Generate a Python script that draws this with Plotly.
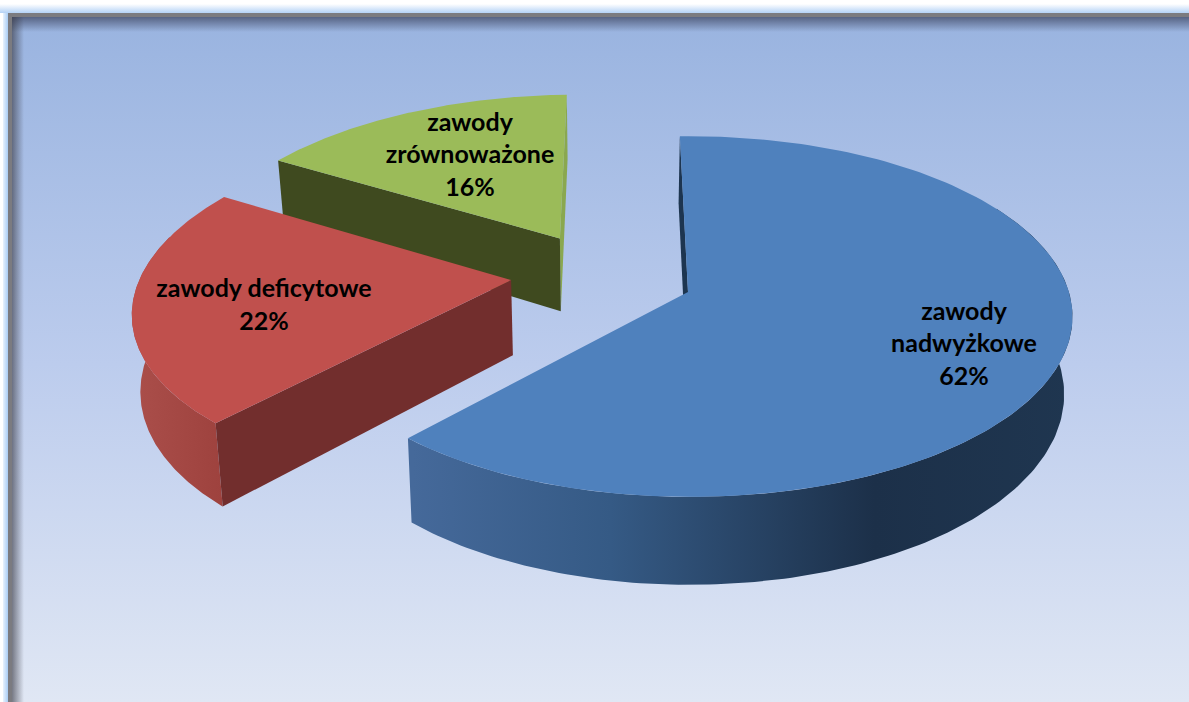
import numpy as np
import plotly.graph_objects as go

# ---- data ----
categories = ["zawody nadwyżkowe", "zawody deficytowe", "zawody zrównoważone"]
label_lines = ["zawody<br>nadwyżkowe<br>62%", "zawody deficytowe<br>22%", "zawody<br>zrównoważone<br>16%"]
shares = [62, 22, 16]
top_colors = ["#4f81bd", "#c0504d", "#9bbb59"]
inner_colors = ["#1d3550", "#722e2d", "#3f4a1f"]
label_x = [964, 264, 470]
label_y = [346, 307, 157]

# ---- projection constants (perspective view of the tilted pie, pixel-based axes) ----
W, H = 1189, 702
CX, CY = 688, 292
AX, BY, PERSP, PERSP_X = 379, 177, 0.136, -0.005
DEPTH, SHRINK, VANISH_X = 76, 0.982, 610
EXPLODE = 0.245
START_DEG = -1.4


def project(X, Y, low=False):
    X, Y = np.asarray(X, float), np.asarray(Y, float)
    w = 1 + PERSP * Y + PERSP_X * X
    sx = CX + AX * X / w
    sy = CY - BY * Y / w
    if low:
        return VANISH_X + (sx - VANISH_X) * SHRINK, sy + DEPTH / w
    return sx, sy


def u(deg):
    r = np.radians(deg)
    return np.sin(r), np.cos(r)


def poly(xs, ys, color=None, gradient=None):
    kw = dict(x=list(xs), y=list(ys), mode="lines", line=dict(width=0), fill="toself",
              hoverinfo="skip", showlegend=False)
    if gradient is not None:
        kw["fillgradient"] = gradient
    else:
        kw["fillcolor"] = color
    return go.Scatter(**kw)


def grad(kind, start, stop, stops):
    return dict(type=kind, start=start, stop=stop, colorscale=stops)


fig = go.Figure()

# ---- frame and background ----
fig.add_trace(poly([0, W, W, 0], [0, 0, H, H], gradient=grad("vertical", 4, 13, [[0, "#ffffff"], [1, "#b4d2f6"]])))
fig.add_trace(poly([3, 8, 8, 3], [13, 13, H, H], gradient=grad("horizontal", 3, 8, [[0, "#e8f2fd"], [1, "#a9ccf4"]])))
fig.add_trace(poly([0, 3, 3, 0], [13, 13, H, H], color="#ffffff"))
fig.add_trace(poly([8, W, W, 8], [13, 13, H, H], color="#7b7b80"))
fig.add_trace(poly([12, W, W, 12], [17, 17, H, H],
                   gradient=grad("vertical", 25, 702, [[0, "#9ab4e0"], [0.5, "#bccced"], [1, "#e0e7f4"]])))
fig.add_trace(poly([12, W, W, 12], [17, 17, 32, 32],
                   gradient=grad("vertical", 17, 32, [[0, "rgba(45,50,75,0.62)"], [1, "rgba(45,50,75,0)"]])))
fig.add_trace(poly([12, 24, 24, 12], [17, 17, H, H],
                   gradient=grad("horizontal", 12, 24, [[0, "rgba(55,55,65,0.62)"], [1, "rgba(55,55,65,0)"]])))

# ---- slice geometry from the shares ----
total = sum(shares)
spans = [s / total * 360 for s in shares]
starts = [START_DEG + sum(spans[:i]) for i in range(len(spans))]
mids = [a + b / 2 for a, b in zip(starts, spans)]
ox, oy = u(mids[0])
centre = (-EXPLODE * ox, -EXPLODE * oy)
apexes = []
for m in mids:
    ux, uy = u(m)
    apexes.append((centre[0] + EXPLODE * ux, centre[1] + EXPLODE * uy + (0.0 if m == mids[0] else 0.02)))


def rim(i, a0, a1, low=False):
    t = np.linspace(a0, a1, 160)
    ux, uy = u(t)
    return project(apexes[i][0] + ux, apexes[i][1] + uy, low)


def apex(i, low=False):
    x, y = project([apexes[i][0]], [apexes[i][1]], low)
    return x, y


def edge_wall(i, ang, color):
    rx, ry = rim(i, ang, ang + 1e-6)
    rxl, ryl = rim(i, ang, ang + 1e-6, True)
    ax, ay = apex(i)
    axl, ayl = apex(i, True)
    return poly([ax[0], rx[0], rxl[0], axl[0]], [ay[0], ry[0], ryl[0], ayl[0]], color)


def outer_wall(i, a0, a1, gradient):
    tx, ty = rim(i, a0, a1)
    bx, by = rim(i, a0, a1, True)
    return poly(np.r_[tx, bx[::-1]], np.r_[ty, by[::-1]], gradient=gradient)


def top_face(i):
    ax, ay = apex(i)
    tx, ty = rim(i, starts[i], starts[i] + spans[i])
    return poly(np.r_[ax, tx], np.r_[ay, ty], top_colors[i])


# green (rear) slice
fig.add_trace(edge_wall(2, starts[2] + spans[2], "#8aa84f"))
fig.add_trace(edge_wall(2, starts[2], inner_colors[2]))
fig.add_trace(top_face(2))
# red slice
fig.add_trace(outer_wall(1, starts[1], 285, grad("horizontal", 135, 222, [[0, "#aa4e4a"], [1, "#9e423e"]])))
fig.add_trace(edge_wall(1, starts[1], inner_colors[1]))
fig.add_trace(top_face(1))
# blue slice
fig.add_trace(edge_wall(0, starts[0], inner_colors[0]))
fig.add_trace(outer_wall(0, 60, starts[0] + spans[0], grad("horizontal", 413, 1072,
              [[0, "#45699a"], [0.3, "#355a85"], [0.7, "#1c3049"], [1, "#1f3650"]])))
fig.add_trace(top_face(0))

# ---- labels ----
fig.add_trace(go.Scatter(x=label_x, y=label_y, mode="text", text=label_lines, textposition="middle center",
                         textfont=dict(family="Lato", size=25, color="#000000", weight="bold"),
                         hoverinfo="skip", showlegend=False, customdata=categories))

fig.update_layout(width=W, height=H, margin=dict(l=0, r=0, t=0, b=0), paper_bgcolor="#ffffff",
                  plot_bgcolor="#ffffff", showlegend=False,
                  xaxis=dict(range=[0, W], visible=False, fixedrange=True),
                  yaxis=dict(range=[H, 0], visible=False, fixedrange=True))
fig.write_html("out.html", config={"displayModeBar": False},
               post_script="document.body.style.margin='0';")
